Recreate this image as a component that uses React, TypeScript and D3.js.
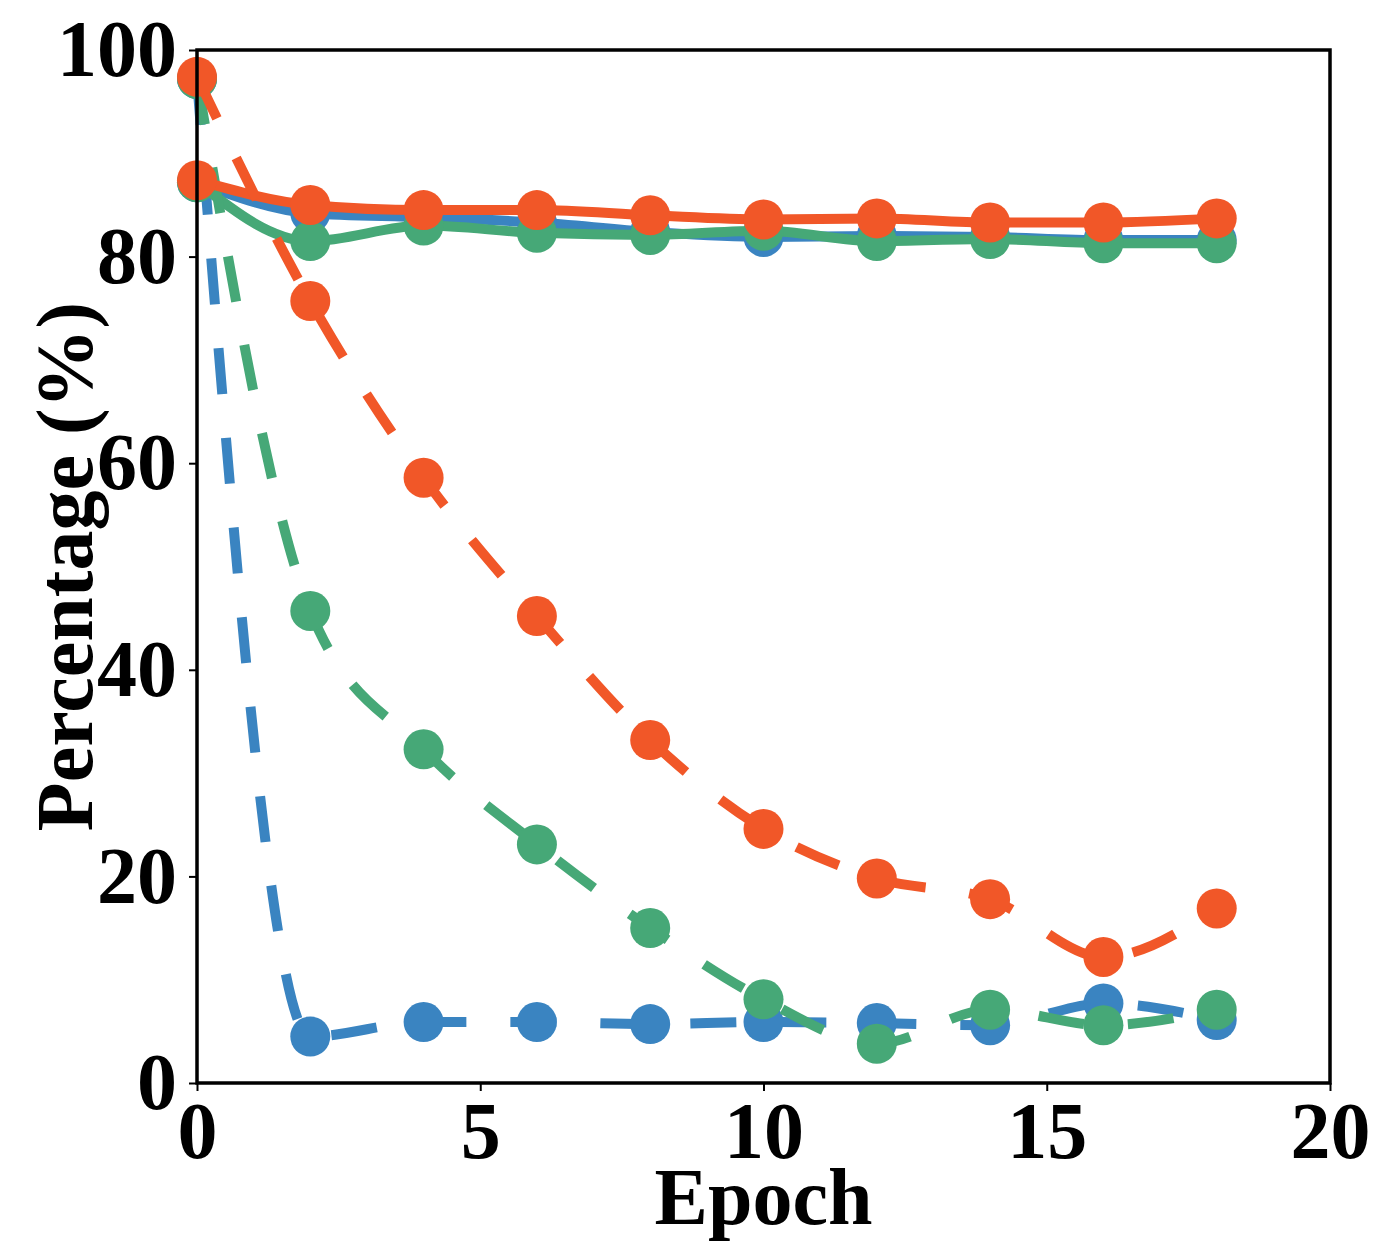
import { useRef, useEffect } from 'react'
import * as d3 from 'd3'

// epochs sampled every 2
const epochs = [0, 2, 4, 6, 8, 10, 12, 14, 16, 18]

// solid lines
const blueSolid = [87.2, 84.2, 83.8, 83.3, 82.4, 81.9, 82.0, 81.9, 81.6, 81.6]
const greenSolid = [87.2, 81.5, 83.0, 82.3, 82.1, 82.5, 81.5, 81.7, 81.3, 81.3]
const orangeSolid = [87.4, 85.0, 84.5, 84.5, 84.0, 83.6, 83.7, 83.3, 83.3, 83.7]

// dashed lines
const blueDashed = [97.2, 4.5, 5.9, 5.9, 5.7, 5.9, 5.8, 5.6, 7.7, 6.1]
const greenDashed = [97.2, 45.7, 32.3, 23.1, 15.0, 8.1, 3.8, 7.1, 5.6, 7.1]
const orangeDashed = [97.4, 75.7, 58.6, 45.2, 33.2, 24.6, 19.8, 17.8, 12.2, 16.9]

const xTicks = [0, 5, 10, 15, 20]
const yTicks = [0, 20, 40, 60, 80, 100]

const BLUE = '#3a84c1'
const GREEN = '#46a877'
const ORANGE = '#f15728'

const FONT = '"Liberation Serif", "Times New Roman", serif'

export default function App() {
  const svgRef = useRef<SVGSVGElement>(null)

  useEffect(() => {
    if (!svgRef.current) return
    const svg = d3.select(svgRef.current)
    svg.selectAll('*').remove()

    const margin = { top: 50, right: 70, bottom: 177, left: 197 }
    const width = 1400 - margin.left - margin.right
    const height = 1260 - margin.top - margin.bottom

    const x = d3.scaleLinear().domain([0, 20]).range([0, width])
    const y = d3.scaleLinear().domain([0, 100]).range([height, 0])

    const g = svg.append('g').attr('transform', `translate(${margin.left},${margin.top})`)

    const series = [
      { values: blueSolid, color: BLUE, dash: null },
      { values: blueDashed, color: BLUE, dash: '46,44' },
      { values: greenSolid, color: GREEN, dash: null },
      { values: greenDashed, color: GREEN, dash: '46,44' },
      { values: orangeSolid, color: ORANGE, dash: null },
      { values: orangeDashed, color: ORANGE, dash: '46,44' },
    ]

    const line = d3.line<number>()
      .x((_, i) => x(epochs[i]))
      .y(d => y(d))
      .curve(d3.curveMonotoneX)

    const plot = g.append('g')
    series.forEach(s => {
      plot.append('path')
        .datum(s.values)
        .attr('d', line)
        .attr('fill', 'none')
        .attr('stroke', s.color)
        .attr('stroke-width', 10)
        .attr('stroke-dasharray', s.dash)

      plot.selectAll(null)
        .data(s.values)
        .enter()
        .append('circle')
        .attr('cx', (_, i) => x(epochs[i]))
        .attr('cy', d => y(d))
        .attr('r', 20)
        .attr('fill', s.color)
    })

    // Axes
    const xAxis = g.append('g')
      .attr('transform', `translate(0,${height})`)
      .call(d3.axisBottom(x).tickValues(xTicks).tickSize(8).tickPadding(12).tickFormat(d3.format('d')))
    const yAxis = g.append('g')
      .call(d3.axisLeft(y).tickValues(yTicks).tickSize(8).tickPadding(12).tickFormat(d3.format('d')))

    ;[xAxis, yAxis].forEach(a => {
      a.select('.domain').remove()
      a.selectAll('.tick line').attr('stroke', '#000').attr('stroke-width', 2)
      a.selectAll('.tick text')
        .attr('fill', '#000')
        .attr('font-family', FONT)
        .attr('font-weight', 'bold')
        .attr('font-size', 80)
    })
    xAxis.selectAll('.tick text').attr('dy', '0.69em')

    // Frame
    g.append('rect')
      .attr('width', width)
      .attr('height', height)
      .attr('fill', 'none')
      .attr('stroke', '#000')
      .attr('stroke-width', 3.5)

    // Labels
    svg.append('text')
      .attr('x', margin.left + width / 2)
      .attr('y', 1224)
      .attr('text-anchor', 'middle')
      .attr('font-family', FONT)
      .attr('font-weight', 'bold')
      .attr('font-size', 80)
      .text('Epoch')

    svg.append('text')
      .attr('transform', `translate(92,${margin.top + height / 2}) rotate(-90)`)
      .attr('text-anchor', 'middle')
      .attr('font-family', FONT)
      .attr('font-weight', 'bold')
      .attr('font-size', 80)
      .text('Percentage (%)')
  }, [])

  return (
    <svg
      ref={svgRef}
      width={1400}
      height={1260}
      style={{ position: 'absolute', left: 0, top: 0, background: '#fff' }}
    />
  )
}
